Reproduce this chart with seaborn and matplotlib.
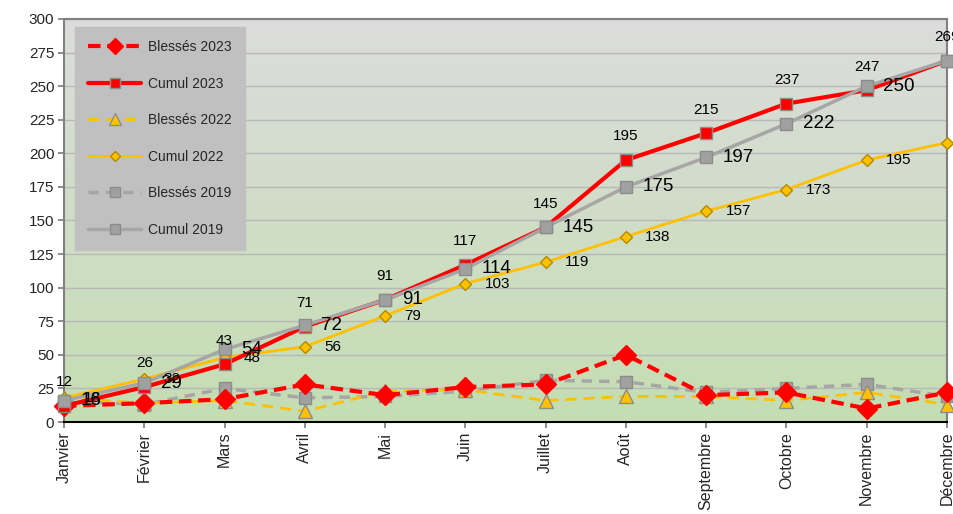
import numpy as np
import pandas as pd
import matplotlib
matplotlib.use("Agg")
import matplotlib.pyplot as plt
import seaborn as sns
from matplotlib.colors import LinearSegmentedColormap

months = ["Janvier", "Février", "Mars", "Avril", "Mai", "Juin", "Juillet",
          "Août", "Septembre", "Octobre", "Novembre", "Décembre"]
blesses_2023 = [12, 14, 17, 28, 20, 26, 28, 50, 20, 22, 10, 22]
cumul_2023 = [12, 26, 43, 71, 91, 117, 145, 195, 215, 237, 247, 269]
blesses_2022 = [18, 14, 16, 8, 23, 24, 16, 19, 19, 16, 22, 13]
cumul_2022 = [18, 32, 48, 56, 79, 103, 119, 138, 157, 173, 195, 208]
blesses_2019 = [16, 13, 25, 18, 19, 23, 31, 30, 22, 25, 28, 19]
cumul_2019 = [16, 29, 54, 72, 91, 114, 145, 175, 197, 222, 250, 269]
yticks = [0, 25, 50, 75, 100, 125, 150, 175, 200, 225, 250, 275, 300]

sns.set_theme(style="white")
plt.rcParams['font.family'] = ['Liberation Sans', 'DejaVu Sans']

fig = plt.figure(figsize=(9.54, 5.14), dpi=100)
ax = fig.add_axes([64/954, 1-422/514, (947-64)/954, (422-19)/514])

# gradient background
cmap = LinearSegmentedColormap.from_list("bg", ["#c4deb2", "#dcdcdc"])
grad = np.linspace(0, 1, 256).reshape(-1, 1)
ax.imshow(grad, extent=[0, 1, 0, 1], transform=ax.transAxes, aspect='auto',
          cmap=cmap, origin='lower', zorder=0)

x = np.arange(len(months))
RED = "#ff0000"
YEL = "#ffc000"
GRY = "#a6a6a6"
MGRY = "#a0a0a0"
EDGE = "#8c8c8c"

series = [
    ("Blessés 2023", blesses_2023, dict(color=RED, lw=3.0, ls=(0, (3, 1.6)), marker="D", ms=10,
                                        mfc=RED, mec=RED, zorder=6)),
    ("Cumul 2023", cumul_2023, dict(color=RED, lw=3.0, ls="-", marker="s", ms=9,
                                    mfc=RED, mec=EDGE, zorder=6)),
    ("Blessés 2022", blesses_2022, dict(color=YEL, lw=2.0, ls=(0, (4, 2.5)), marker="^", ms=10,
                                        mfc=YEL, mec=EDGE, zorder=5)),
    ("Cumul 2022", cumul_2022, dict(color=YEL, lw=2.0, ls="-", marker="D", ms=6,
                                    mfc=YEL, mec="#b08a00", zorder=5)),
    ("Blessés 2019", blesses_2019, dict(color=GRY, lw=2.5, ls=(0, (3, 2)), marker="s", ms=9,
                                        mfc=MGRY, mec=EDGE, zorder=4)),
    ("Cumul 2019", cumul_2019, dict(color=GRY, lw=2.5, ls="-", marker="s", ms=9,
                                    mfc=MGRY, mec=EDGE, zorder=7)),
]

handles = []
for name, vals, st in series:
    df = pd.DataFrame({"x": x, "y": vals})
    sns.lineplot(data=df, x="x", y="y", ax=ax, color=st["color"], linewidth=st["lw"],
                 linestyle=st["ls"], marker=st["marker"], markersize=st["ms"],
                 markerfacecolor=st["mfc"], markeredgecolor=st["mec"], markeredgewidth=1.0,
                 zorder=st["zorder"], label=name, legend=False)
    line = ax.lines[-1]
    line.set_clip_on(False)
    handles.append(line)

# data labels
for i, v in enumerate(cumul_2023):
    ax.annotate(str(v), (i, v), xytext=(0, 12), textcoords="offset points",
                ha="center", va="bottom", fontsize=11, color="black", zorder=10,
                annotation_clip=False)
for i, v in enumerate(cumul_2019):
    if i == 11:
        continue
    ax.annotate(str(v), (i, v), xytext=(12, 0), textcoords="offset points",
                ha="left", va="center", fontsize=13.5, color="black", zorder=10)
for i, v in enumerate(cumul_2022):
    if i == 11:
        continue
    ax.annotate(str(v), (i, v), xytext=(14, 0), textcoords="offset points",
                ha="left", va="center", fontsize=11, color="black", zorder=10)

ax.set_xlim(0, 11)
ax.set_ylim(0, 300)
ax.set_yticks(yticks)
ax.set_yticklabels([str(t) for t in yticks], fontsize=11)
ax.set_xticks(x)
ax.set_xticklabels(months, rotation=90, fontsize=11.5)
ax.set_xlabel("")
ax.set_ylabel("")
for t in yticks:
    ax.axhline(t, color="#b8b8b8", lw=1.0, zorder=1)
ax.tick_params(axis="both", length=4, color="#808080", direction="out", pad=3)
ax.tick_params(axis="x", bottom=True)
ax.tick_params(axis="y", left=True)
for s in ["left", "top", "right"]:
    ax.spines[s].set_color("#808080")
    ax.spines[s].set_linewidth(1.5)
ax.spines["bottom"].set_color("black")
ax.spines["bottom"].set_linewidth(1.5)

leg = ax.legend(handles=handles, labels=[s[0] for s in series], loc="upper left",
                bbox_to_anchor=(0.0125, 0.980), borderaxespad=0, fontsize=10,
                frameon=True, fancybox=False,
                facecolor="#c0c0c0", edgecolor="#c0c0c0", framealpha=1.0,
                handlelength=3.8, labelspacing=1.62, borderpad=0.95, handletextpad=0.5,
                markerscale=0.8)
leg.set_zorder(20)

fig.savefig("out.png", dpi=100)
